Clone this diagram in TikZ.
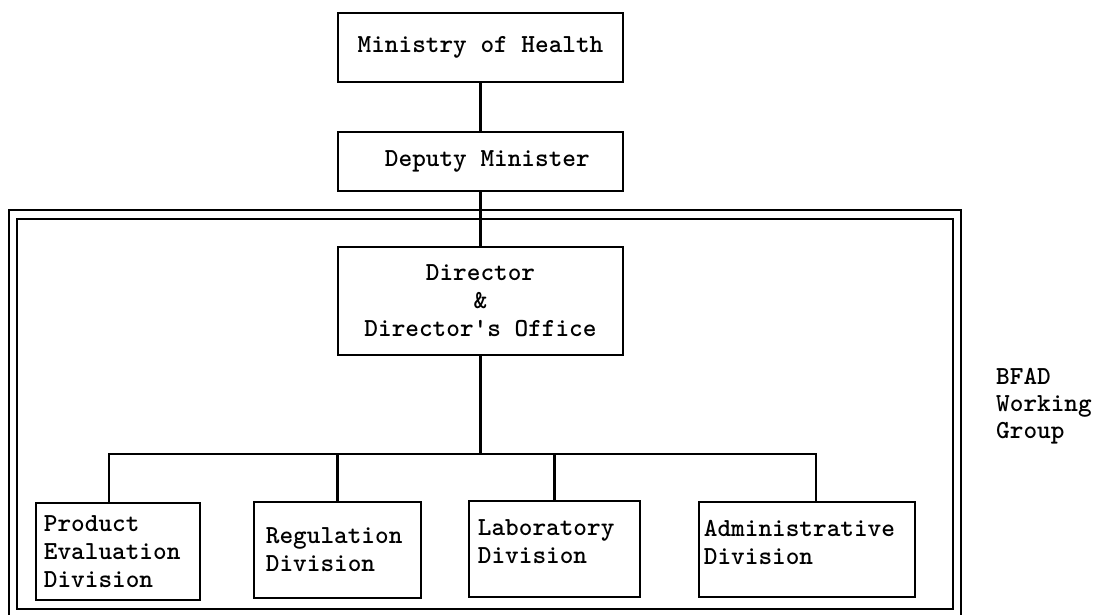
\documentclass[tikz,border=0pt]{standalone}
\usepackage{fontspec}
\newcommand\twfont{\ttfamily\fontseries{b}\fontsize{26}{28}\selectfont}
\begin{document}
\begin{tikzpicture}[x=1pt,y=-1pt,
  box/.style={draw, line width=1.8pt, inner sep=0pt, font=\twfont},
  divbox/.style={box, anchor=north west, align=left},
  conn/.style={line width=2.6pt},
  frameline/.style={line width=2.4pt}]
\useasboundingbox (0,0) rectangle (1094,615);
\clip (0,0) rectangle (1094,615);
% outer double frame
\draw[frameline] (9,210) rectangle (961,620);
\draw[frameline] (17,219) rectangle (953,609);
% top chain
\node[box, minimum width=285pt, minimum height=69pt] (moh) at (480.5,47.5) {Ministry of Health};
\node[box, minimum width=285pt, minimum height=59pt] (dep) at (480.5,161.5) {~Deputy Minister};
\node[box, minimum width=285pt, minimum height=108pt, align=center] (dir) at (480.5,301) {Director\\\&\\Director's Office};
% divisions
\node[divbox, inner xsep=8pt, text width=148pt, minimum height=97pt] (prod) at (35,502) {Product\\Evaluation\\Division};
\node[divbox, inner xsep=12pt, text width=143pt, minimum height=96pt] (reg) at (253,501) {Regulation\\Division};
\node[divbox, inner xsep=9pt, text width=153pt, minimum height=96pt, text depth=42pt] (lab) at (468,500) {Laboratory\\Division};
\node[divbox, inner xsep=5pt, text width=206pt, minimum height=95pt, text depth=42pt] (adm) at (698,501) {Administrative\\Division};
% side label
\node[font=\ttfamily\fontseries{b}\fontsize{26}{27}\selectfont, align=left, anchor=west, inner sep=0pt] (bfad) at (996,406) {BFAD\\Working\\Group};
% connectors
\coordinate (busL) at (109,454);
\coordinate (busR) at (816,454);
\draw[conn] (moh) -- (dep);
\draw[conn] (dep) -- (dir);
\draw[conn] (dir.south) -- (dir.south |- busL);
\draw[conn] (prod.north -| busL) -- (busL) -- (busR) -- (adm.north -| busR);
\draw[conn] (reg.north) -- (reg.north |- busL);
\draw[conn] (lab.north) -- (lab.north |- busL);
\end{tikzpicture}
\end{document}
